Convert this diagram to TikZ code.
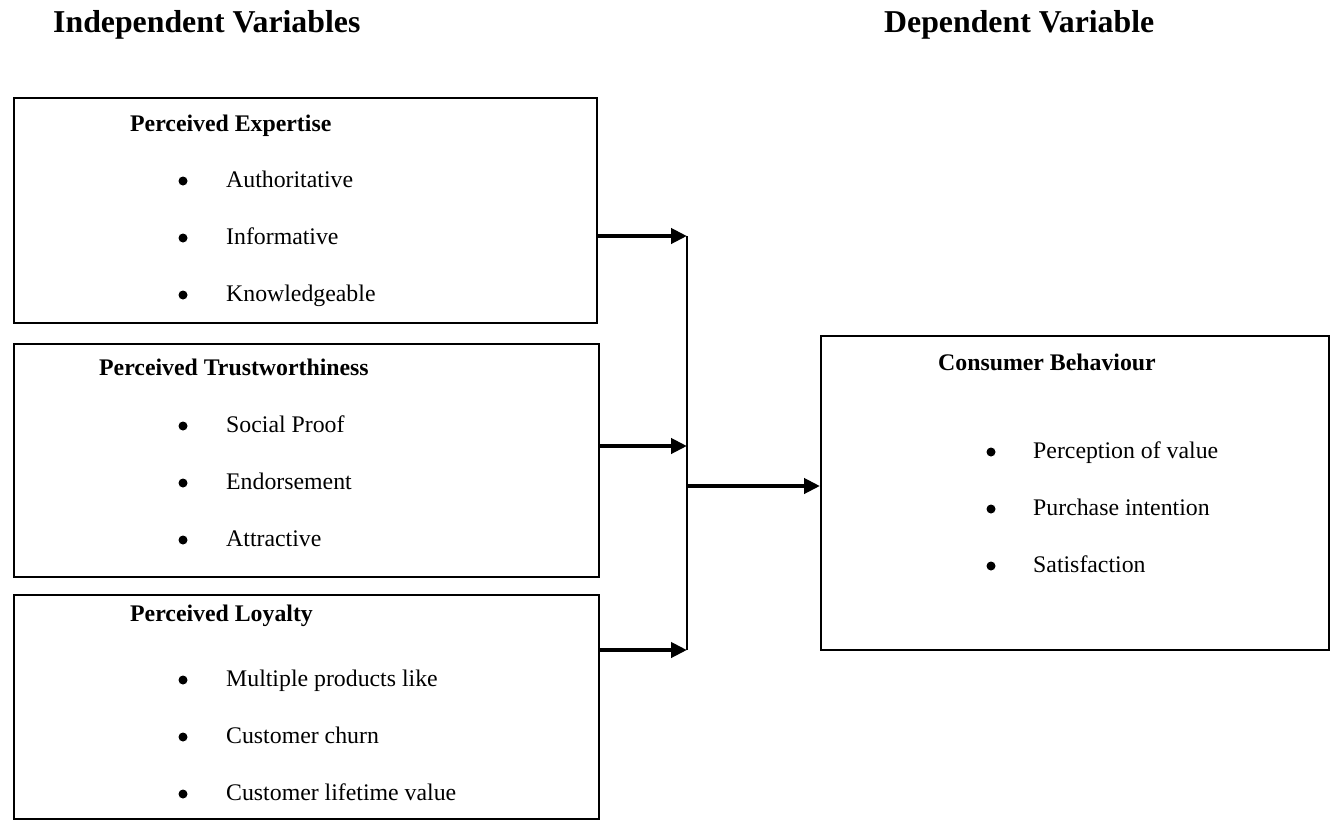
\documentclass[tikz,border=0pt]{standalone}
\usepackage{fontspec}
\setmainfont{Liberation Serif}
\usetikzlibrary{arrows.meta}
\begin{document}
\begin{tikzpicture}[x=1pt,y=-1pt,
  box/.style={draw, line width=2.2pt, inner sep=0pt, anchor=north west},
  hdr/.style={anchor=base west, inner sep=0pt, font=\fontsize{31.8}{36}\selectfont\bfseries},
  ttl/.style={anchor=base west, inner sep=0pt, font=\fontsize{23.8}{28}\selectfont\bfseries},
  itm/.style={anchor=base west, inner sep=0pt, font=\fontsize{23.8}{28}\selectfont},
  bul/.style={circle, fill, inner sep=0pt, minimum size=9pt},
  conn/.style={line width=4pt, -{Triangle[length=16pt,width=15pt]}},
  bus/.style={line width=2.2pt},
  ]
\useasboundingbox (0,0) rectangle (1335,819);

% headers
\node[hdr] (hIV) at (53,32) {Independent Variables};
\node[hdr] (hDV) at (884,32) {Dependent Variable};

% boxes
\node[box, minimum width=583pt, minimum height=225pt] (b1) at (13,97) {};
\node[box, minimum width=585pt, minimum height=233pt] (b2) at (13,343) {};
\node[box, minimum width=585pt, minimum height=224pt] (b3) at (13,594) {};
\node[box, minimum width=508pt, minimum height=314pt] (cb) at (820,335) {};

% box 1
\node[ttl] (t1) at (130,131) {Perceived Expertise};
\node[bul] (u11) at (183,181) {}; \node[itm] (i11) at (226,187) {Authoritative};
\node[bul] (u12) at (183,238) {}; \node[itm] (i12) at (226,244) {Informative};
\node[bul] (u13) at (183,295) {}; \node[itm] (i13) at (226,301) {Knowledgeable};

% box 2
\node[ttl] (t2) at (99,375) {Perceived Trustworthiness};
\node[bul] (u21) at (183,426) {}; \node[itm] (i21) at (226,432) {Social Proof};
\node[bul] (u22) at (183,483) {}; \node[itm] (i22) at (226,489) {Endorsement};
\node[bul] (u23) at (183,540) {}; \node[itm] (i23) at (226,546) {Attractive};

% box 3
\node[ttl] (t3) at (130,621) {Perceived Loyalty};
\node[bul] (u31) at (183,680) {}; \node[itm] (i31) at (226,686) {Multiple products like};
\node[bul] (u32) at (183,737) {}; \node[itm] (i32) at (226,743) {Customer churn};
\node[bul] (u33) at (183,794) {}; \node[itm] (i33) at (226,800) {Customer lifetime value};

% consumer behaviour
\node[ttl] (tc) at (938,370) {Consumer Behaviour};
\node[bul] (uc1) at (991,452) {}; \node[itm] (ic1) at (1033,458) {Perception of value};
\node[bul] (uc2) at (991,509) {}; \node[itm] (ic2) at (1033,515) {Purchase intention};
\node[bul] (uc3) at (991,566) {}; \node[itm] (ic3) at (1033,572) {Satisfaction};

% connectors
\coordinate (j1) at (687,236);
\coordinate (j2) at (687,446);
\coordinate (j3) at (687,650);
\coordinate (jm) at (687,486);
\draw[conn] (b1.east |- j1) -- (j1);
\draw[conn] (b2.east |- j2) -- (j2);
\draw[conn] (b3.east |- j3) -- (j3);
\draw[bus] (j1) -- (j3);
\draw[conn] (jm) -- (cb.west |- jm);
\end{tikzpicture}
\end{document}
